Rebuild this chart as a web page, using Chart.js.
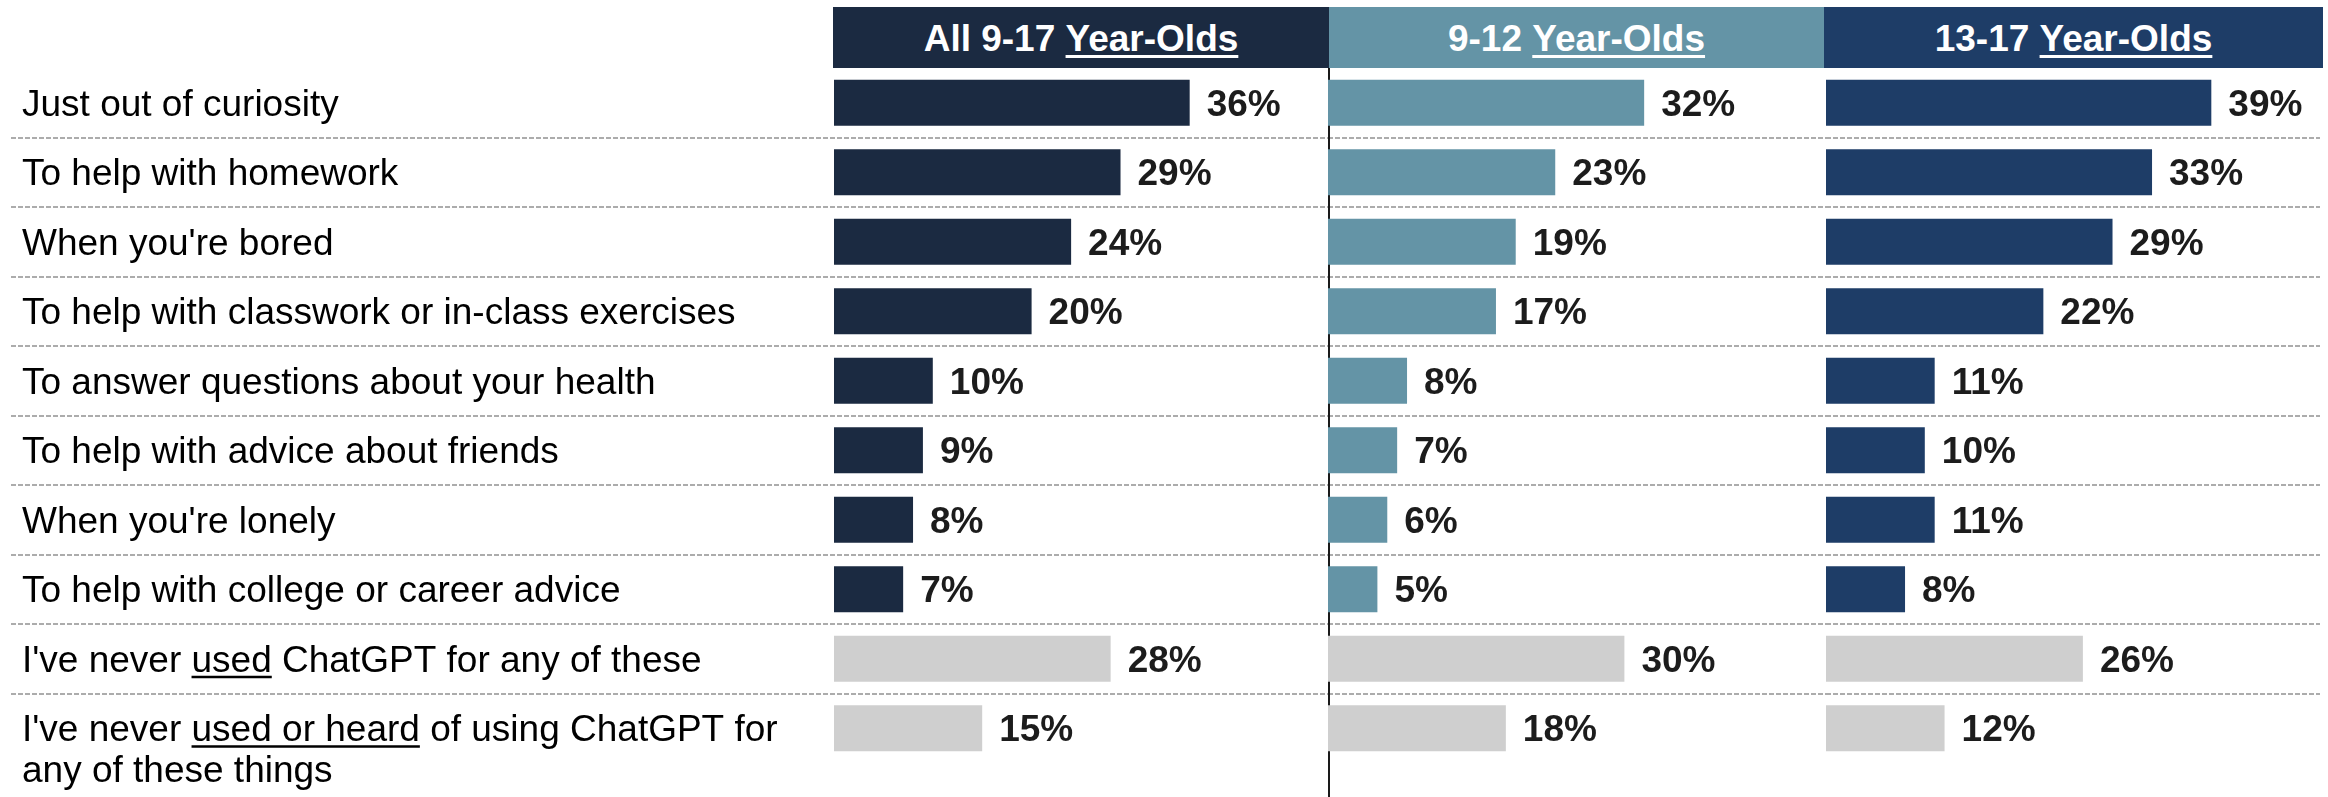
<!DOCTYPE html>
<html>
<head>
<meta charset="utf-8">
<script src="https://cdn.jsdelivr.net/npm/chart.js@4.4.1/dist/chart.umd.min.js"></script>
<style>
  html, body {
    margin: 0;
    padding: 0;
    background: #ffffff;
  }

  #wrap {
    position: relative;
    width: 2328px;
    height: 797px;
    overflow: hidden;
    background: #ffffff;
  }

  canvas {
    position: absolute;
    top: 0;
  }

  .head {
    position: absolute;
    top: 7px;
    height: 61px;
    box-sizing: border-box;
    padding-top: 3px;
    display: flex;
    align-items: center;
    justify-content: center;
    color: #ffffff;
    font-family: 'Liberation Sans', Arial, sans-serif;
    font-weight: bold;
    font-size: 37px;
    white-space: nowrap;
  }

  .head u {
    text-decoration-thickness: 3px;
    text-underline-offset: 4px;
  }
</style>
</head>
<body>
<div id="wrap">
  <div class="head" style="left: 833px; width: 496px; background: #1b2a41;">All 9-17&nbsp;<u>Year-Olds</u></div>
  <div class="head" style="left: 1329px; width: 495px; background: #6494a6;">9-12&nbsp;<u>Year-Olds</u></div>
  <div class="head" style="left: 1824px; width: 499px; background: #1e3d67;">13-17&nbsp;<u>Year-Olds</u></div>

  <canvas id="chart-all" width="1328" height="797" style="left: 0px;"></canvas>
  <canvas id="chart-kids" width="498" height="797" style="left: 1328px;"></canvas>
  <canvas id="chart-teens" width="502" height="797" style="left: 1826px;"></canvas>
</div>

<script>
// DATA

const categories = [
  'Just out of curiosity',
  'To help with homework',
  "When you're bored",
  'To help with classwork or in-class exercises',
  'To answer questions about your health',
  'To help with advice about friends',
  "When you're lonely",
  'To help with college or career advice',
  "I've never used ChatGPT for any of these",
  [
    "I've never used or heard of using ChatGPT for",
    'any of these things',
  ],
];

const underlined = [
  null, null, null, null, null,
  null, null, null,
  'used',
  'used or heard',
];

const allValues = [36, 29, 24, 20, 10, 9, 8, 7, 28, 15];

const kidsValues = [32, 23, 19, 17, 8, 7, 6, 5, 30, 18];

const teensValues = [39, 33, 29, 22, 11, 10, 11, 8, 26, 12];

const axisMax = 50;

const neverCount = 2;

// STYLE

const fontFamily =
  "'Liberation Sans', Arial, sans-serif";

const greyBar = '#cfcfcf';

const barColors = (color) =>
  categories.map(
    (c, i) =>
      i >= categories.length - neverCount
        ? greyBar
        : color
  );

// PLUGINS

const rowLines = {
  id: 'rowLines',

  beforeDatasetsDraw(chart, args, opts) {
    const { ctx } = chart;
    const yScale = chart.scales.y;

    ctx.save();

    // DASHED ROW SEPARATORS
    ctx.strokeStyle = '#acacac';
    ctx.lineWidth = 2;
    ctx.setLineDash([5, 2]);

    for (let i = 0; i < categories.length - 1; i++) {
      const py = Math.round(
        (yScale.getPixelForValue(i) +
          yScale.getPixelForValue(i + 1)) / 2
      );

      ctx.beginPath();
      ctx.moveTo(opts.from, py);
      ctx.lineTo(opts.to, py);
      ctx.stroke();
    }

    // COLUMN DIVIDER
    if (opts.divider) {
      ctx.setLineDash([]);
      ctx.strokeStyle = '#1a1a1a';
      ctx.lineWidth = 2;
      ctx.beginPath();
      ctx.moveTo(chart.chartArea.left + 1, chart.chartArea.top);
      ctx.lineTo(chart.chartArea.left + 1, chart.height);
      ctx.stroke();
    }

    ctx.restore();
  },
};

const valueLabels = {
  id: 'valueLabels',

  afterDatasetsDraw(chart) {
    const { ctx } = chart;
    const values = chart.data.datasets[0].data;

    ctx.save();
    ctx.font = `bold 37px ${fontFamily}`;
    ctx.fillStyle = '#1c1c1c';
    ctx.textAlign = 'left';
    ctx.textBaseline = 'alphabetic';

    chart.getDatasetMeta(0).data.forEach((bar, i) => {
      ctx.fillText(
        `${values[i]}%`,
        bar.x + 17,
        bar.y + 13
      );
    });

    ctx.restore();
  },
};

const rowLabels = {
  id: 'rowLabels',

  afterDraw(chart, args, opts) {
    if (!opts.show) return;

    const { ctx } = chart;
    const yScale = chart.scales.y;
    const x = 22;

    ctx.save();
    ctx.font = `37px ${fontFamily}`;
    ctx.fillStyle = '#000000';
    ctx.textAlign = 'left';
    ctx.textBaseline = 'alphabetic';

    categories.forEach((label, i) => {
      const lines = Array.isArray(label) ? label : [label];
      const base = yScale.getPixelForValue(i) + 13;

      lines.forEach((line, j) => {
        const by = base + j * 41;
        ctx.fillText(line, x, by);

        // UNDERLINED WORDS
        const phrase = underlined[i];
        if (phrase && j === 0) {
          const at = line.indexOf(phrase);
          if (at >= 0) {
            const start =
              x + ctx.measureText(line.slice(0, at)).width;
            const width =
              ctx.measureText(phrase).width;
            ctx.fillRect(start, by + 4, width, 2.5);
          }
        }
      });
    });

    ctx.restore();
  },
};

// CHART FACTORY

const makeChart = (id, values, color, padding, lineOpts, showLabels) =>
  new Chart(
    document.getElementById(id),
    {
      type: 'bar',

      data: {
        labels: categories,

        datasets: [
          {
            data: values,
            backgroundColor: barColors(color),
            borderWidth: 0,
            barPercentage: 0.662,
            categoryPercentage: 1,
          },
        ],
      },

      options: {
        indexAxis: 'y',
        responsive: false,
        maintainAspectRatio: false,
        animation: false,
        devicePixelRatio: 1,

        layout: {
          padding,
        },

        scales: {
          x: {
            display: false,
            min: 0,
            max: axisMax,
          },

          y: {
            display: false,
          },
        },

        plugins: {
          legend: { display: false },
          tooltip: { enabled: false },
          rowLines: lineOpts,
          rowLabels: { show: showLabels },
        },
      },

      plugins: [rowLines, valueLabels, rowLabels],
    }
  );

makeChart(
  'chart-all',
  allValues,
  '#1b2a41',
  { left: 834, right: 0, top: 68, bottom: 34 },
  { from: 11, to: 1328, divider: false },
  true
);

makeChart(
  'chart-kids',
  kidsValues,
  '#6494a6',
  { left: 0, right: 4, top: 68, bottom: 34 },
  { from: 0, to: 498, divider: true },
  false
);

makeChart(
  'chart-teens',
  teensValues,
  '#1e3d67',
  { left: 0, right: 8, top: 68, bottom: 34 },
  { from: 0, to: 494, divider: false },
  false
);
</script>
</body>
</html>
